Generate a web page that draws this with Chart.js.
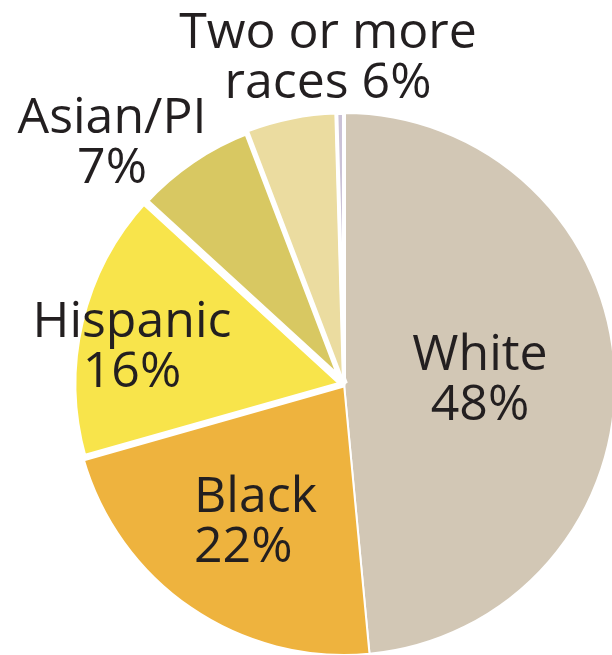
<!DOCTYPE html>
<html>
<head>
<meta charset="utf-8">
<script src="https://cdn.jsdelivr.net/npm/chart.js@4.4.1/dist/chart.umd.min.js"></script>
<style>
  html, body { margin: 0; padding: 0; background: #ffffff; }
  #wrap { width: 612px; height: 655px; overflow: hidden; position: relative; }
  #c { position: absolute; left: 0; top: 0; }
</style>
</head>
<body>
<div id="wrap"><canvas id="c" width="688" height="768"></canvas></div>
<script>
// ---- data ----
const categories = ['White', 'Black', 'Hispanic', 'Asian/PI', 'Two or more races', 'Other'];
const shares = [48.5, 22.1, 16.2, 7.4, 5.35, 0.45];
const labelLines = [
  ['White', '48%'],
  ['Black', '22%'],
  ['Hispanic', '16%'],
  ['Asian/PI', '7%'],
  ['Two or more', 'races 6%'],
  []
];

// ---- styles ----
const colors = ['#d2c7b5', '#eeb33e', '#f8e44b', '#d8c862', '#ebdca0', '#cbc2d6'];
const borderWidths = [2, 2, 7, 8, 3, 4];
// label anchor relative to pie centre: dx, first baseline dy, alignment
const labelLayout = [
  { dx: 136, dy: -14, align: 'center' },
  { dx: -150, dy: 128, align: 'left' },
  { dx: -212, dy: -47, align: 'center' },
  { dx: -232, dy: -251, align: 'center' },
  { dx: -16, dy: -336, align: 'center' },
  null
];
const lineGap = 50;

const labelPlugin = {
  id: 'sliceLabels',
  afterDatasetsDraw(chart) {
    const ctx = chart.ctx;
    const arc0 = chart.getDatasetMeta(0).data[0];
    const cx = arc0.x, cy = arc0.y;
    ctx.save();
    ctx.fillStyle = '#231f20';
    ctx.font = '50px "Open Sans"';
    ctx.textBaseline = 'alphabetic';
    labelLines.forEach((lines, i) => {
      const L = labelLayout[i];
      if (!L) return;
      ctx.textAlign = L.align;
      lines.forEach((t, k) => {
        ctx.fillText(t, cx + L.dx, cy + L.dy + k * lineGap);
      });
    });
    ctx.restore();
  }
};

new Chart(document.getElementById('c'), {
  type: 'pie',
  data: {
    labels: categories,
    datasets: [{
      data: shares,
      backgroundColor: colors,
      borderColor: '#ffffff',
      borderWidth: borderWidths,
      borderAlign: 'center'
    }]
  },
  options: {
    responsive: false,
    animation: false,
    radius: 271,
    rotation: 0,
    layout: { padding: 0 },
    plugins: {
      legend: { display: false },
      tooltip: { enabled: false }
    }
  },
  plugins: [labelPlugin]
});
</script>
</body>
</html>
